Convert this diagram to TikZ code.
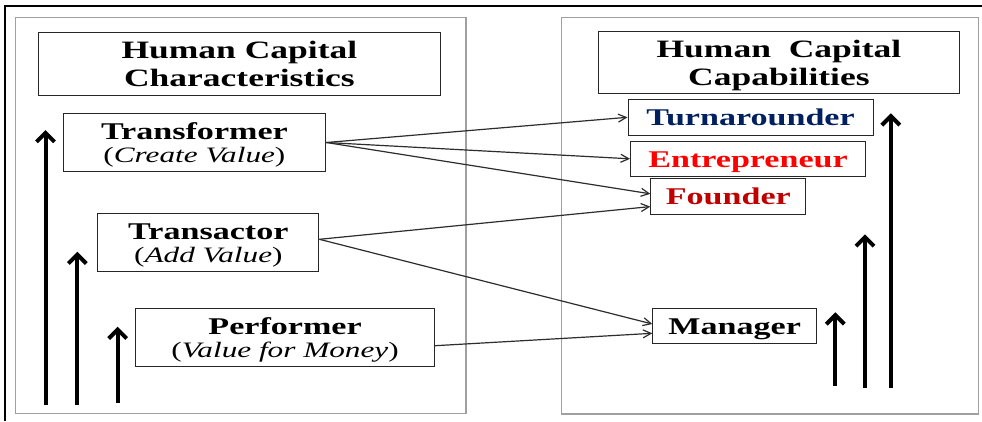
\documentclass[tikz,border=0pt]{standalone}
\usepackage{fontspec}
\setmainfont{Liberation Serif}
\newfontfamily\wideserif[FakeStretch=1.42]{Liberation Serif}
\usetikzlibrary{arrows.meta}
\definecolor{navyblue}{RGB}{0,32,96}
\definecolor{dkred}{RGB}{192,0,0}
\definecolor{brightred}{RGB}{255,0,0}
\definecolor{panelgray}{RGB}{160,160,160}
\definecolor{linegray}{RGB}{45,45,45}
\begin{document}
\begin{tikzpicture}[x=1pt,y=-1pt,
  panel/.style={draw=panelgray, line width=1.3pt},
  boxbase/.style={draw=black!85, line width=1.1pt, inner sep=0pt, anchor=north west, align=center},
  titlebox/.style={boxbase, font=\wideserif\bfseries\fontsize{25}{28}\selectfont, text height=54pt, text depth=8.6pt},
  charbox/.style={boxbase, font=\wideserif\bfseries\fontsize{24}{23}\selectfont, text height=49pt, text depth=8.3pt},
  capbox/.style={boxbase, font=\wideserif\bfseries\fontsize{24}{23}\selectfont, text height=26pt, text depth=9.5pt},
  conn/.style={draw=linegray, line width=1.2pt, -{Straight Barb[length=8pt,width=8pt]}},
  bigarrow/.style={draw=black, line width=4pt, -{Straight Barb[length=9pt,width=18pt]}},
]
\useasboundingbox (0,0) rectangle (982,421);
\fill[white] (0,0) rectangle (982,421);
% outer frame (top and left edges)
\draw[line width=1.5pt] (5,421) -- (5,6) -- (982,6);
% panels
\draw[panel] (15.7,17.3) rectangle (466,413.3);
\draw[panel] (561.7,17.3) rectangle (978.3,414);
% left side boxes
\node[titlebox, minimum width=402.3pt] (lt) at (37.7,32.3) {Human Capital\\Characteristics};
\node[charbox, minimum width=262.7pt] (tf) at (62.5,113.3) {Transformer\\{\mdseries\fontsize{22}{23}\selectfont(\textit{Create Value})}};
\node[charbox, minimum width=221pt] (ta) at (97.3,213.3) {Transactor\\{\mdseries\fontsize{22}{23}\selectfont(\textit{Add Value})}};
\node[charbox, minimum width=299pt] (pf) at (135,308.3) {Performer\\{\mdseries\fontsize{22}{23}\selectfont(\textit{Value for Money})}};
% right side boxes
\node[titlebox, minimum width=361.3pt] (rt) at (597.7,30.7) {Human~~Capital\\Capabilities};
\node[capbox, minimum width=245pt, text=navyblue] (tu) at (627.5,99) {Turnarounder};
\node[capbox, minimum width=235pt, text=brightred] (en) at (630,140.5) {Entrepreneur};
\node[capbox, minimum width=155pt, text=dkred] (fo) at (650.3,178.3) {Founder};
\node[capbox, minimum width=163.7pt] (mg) at (652.3,307.7) {Manager};
% connectors
\draw[conn] (tf.east) -- (tu.west);
\draw[conn] (tf.east) -- (en.west);
\draw[conn] (tf.east) -- ([yshift=2.8pt]fo.west);
\draw[conn] ([yshift=3.2pt]ta.east) -- ([yshift=-10pt]fo.west);
\draw[conn] ([yshift=3.2pt]ta.east) -- ([yshift=2pt]mg.west);
\draw[conn] ([yshift=-8.2pt]pf.east) -- ([yshift=-7.3pt]mg.west);
% vertical arrows, left
\coordinate (la1s) at (45.5,405);  \coordinate (la1e) at (45.5,130);
\coordinate (la2s) at (77.3,405);  \coordinate (la2e) at (77.3,251.7);
\coordinate (la3s) at (117.7,402.7); \coordinate (la3e) at (117.7,326.7);
\draw[bigarrow] (la1s) -- (la1e);
\draw[bigarrow] (la2s) -- (la2e);
\draw[bigarrow] (la3s) -- (la3e);
% vertical arrows, right
\coordinate (ra1s) at (835.3,385.7); \coordinate (ra1e) at (835.3,312.3);
\coordinate (ra2s) at (865,388.3);   \coordinate (ra2e) at (865,234.3);
\coordinate (ra3s) at (890.8,388.3); \coordinate (ra3e) at (890.8,113.3);
\draw[bigarrow] (ra1s) -- (ra1e);
\draw[bigarrow] (ra2s) -- (ra2e);
\draw[bigarrow] (ra3s) -- (ra3e);
\end{tikzpicture}
\end{document}
